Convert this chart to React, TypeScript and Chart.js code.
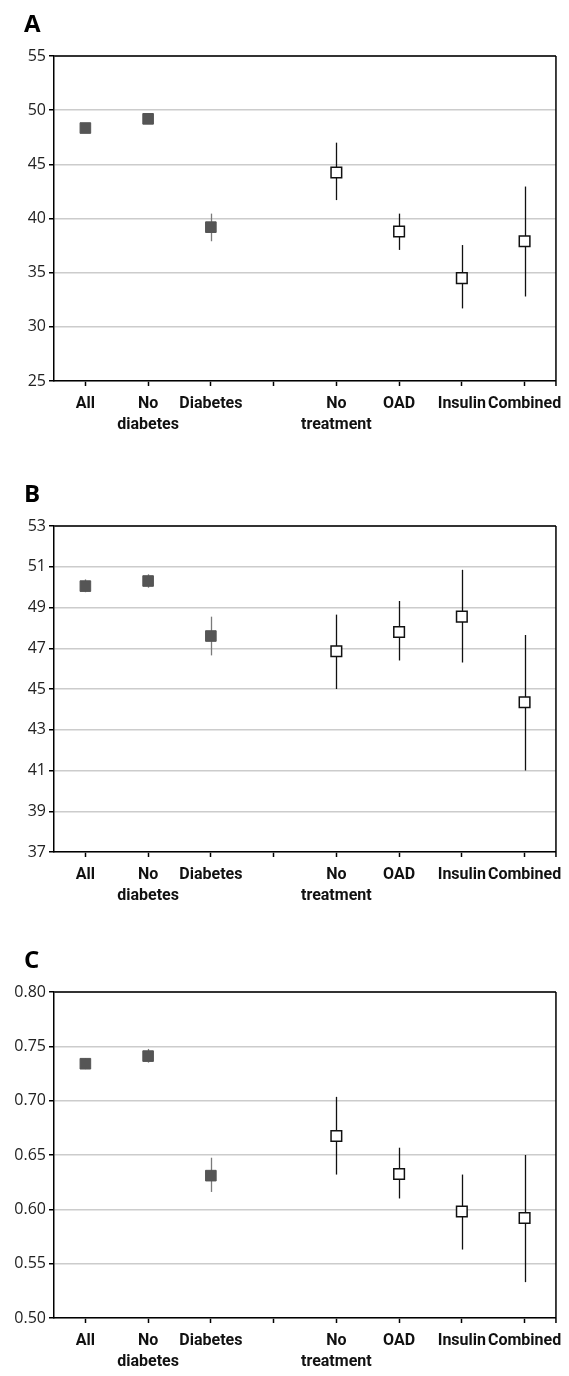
import React, { useEffect, useRef } from 'react';
import { Chart, registerables } from 'chart.js';

Chart.register(...registerables);

// ---- data ----
const categories: (string | string[])[] = [
  'All',
  ['No', 'diabetes'],
  'Diabetes',
  '',
  ['No', 'treatment'],
  'OAD',
  'Insulin',
  'Combined',
];
// filled = overall groups, open = diabetes treatment subgroups
const markerKinds: (string | null)[] = ['filled', 'filled', 'filled', null, 'open', 'open', 'open', 'open'];

const panelAMean: (number | null)[] = [48.35, 49.2, 39.2, null, 44.25, 38.8, 34.5, 37.9];
const panelALow: (number | null)[] = [48.1, 48.95, 37.9, null, 41.7, 37.1, 31.7, 32.8];
const panelAHigh: (number | null)[] = [48.6, 49.45, 40.45, null, 47.0, 40.45, 37.55, 42.95];
const panelATicks = { min: 25, max: 55, step: 5, decimals: 0 };

const panelBMean: (number | null)[] = [50.05, 50.3, 47.6, null, 46.85, 47.8, 48.55, 44.35];
const panelBLow: (number | null)[] = [49.75, 49.97, 46.65, null, 45.0, 46.4, 46.3, 41.0];
const panelBHigh: (number | null)[] = [50.38, 50.63, 48.55, null, 48.65, 49.32, 50.85, 47.65];
const panelBTicks = { min: 37, max: 53, step: 2, decimals: 0 };

const panelCMean: (number | null)[] = [0.734, 0.741, 0.631, null, 0.6675, 0.6325, 0.598, 0.592];
const panelCLow: (number | null)[] = [0.729, 0.735, 0.616, null, 0.632, 0.61, 0.563, 0.533];
const panelCHigh: (number | null)[] = [0.739, 0.7476, 0.6475, null, 0.7035, 0.6567, 0.632, 0.65];
const panelCTicks = { min: 0.5, max: 0.8, step: 0.05, decimals: 2 };

const FONT = '"Open Sans", "Noto Sans", sans-serif';
const LABEL_FONT = 'Roboto, "Open Sans", sans-serif';

type PanelProps = {
  letter: string;
  mean: (number | null)[];
  low: (number | null)[];
  high: (number | null)[];
  ticks: { min: number; max: number; step: number; decimals: number };
  top: number;
  height: number;
};

function Panel({ letter, mean, low, high, ticks, top, height }: PanelProps) {
  const ref = useRef<HTMLCanvasElement | null>(null);

  useEffect(() => {
    if (!ref.current) return;
    const filled = mean.map((v, i) => (markerKinds[i] === 'filled' ? v : null));
    const open = mean.map((v, i) => (markerKinds[i] === 'open' ? v : null));

    const errorBars = {
      id: 'errorBars',
      beforeDatasetsDraw(chart: any) {
        const { ctx, scales } = chart;
        const x = scales.x;
        const y = scales.y;
        ctx.save();
        mean.forEach((v, i) => {
          if (v == null || low[i] == null || high[i] == null) return;
          const px = Math.round(x.getPixelForValue(i)) + 0.5;
          ctx.strokeStyle = markerKinds[i] === 'filled' ? '#7a7a7a' : '#111111';
          ctx.lineWidth = 1.3;
          ctx.beginPath();
          ctx.moveTo(px, y.getPixelForValue(low[i] as number));
          ctx.lineTo(px, y.getPixelForValue(high[i] as number));
          ctx.stroke();
        });
        ctx.restore();
      },
    };

    const frame = {
      id: 'frame',
      afterDraw(chart: any) {
        const { ctx, chartArea } = chart;
        const { left, right, top: t, bottom } = chartArea;
        ctx.save();
        ctx.strokeStyle = '#333333';
        ctx.lineWidth = 2;
        ctx.beginPath();
        ctx.moveTo(left, t);
        ctx.lineTo(right, t);
        ctx.stroke();
        ctx.strokeStyle = '#000000';
        ctx.lineWidth = 1.5;
        ctx.beginPath();
        ctx.moveTo(right, t);
        ctx.lineTo(right, bottom + 5);
        ctx.stroke();
        ctx.fillStyle = '#000000';
        ctx.font = `bold 24px ${FONT}`;
        ctx.textBaseline = 'alphabetic';
        ctx.textAlign = 'left';
        ctx.fillText(letter, 24, 32);
        ctx.restore();
      },
    };

    const chart = new Chart(ref.current, {
      type: 'line',
      data: {
        labels: categories as any,
        datasets: [
          {
            data: filled,
            showLine: false,
            pointStyle: 'rect',
            pointRadius: 7.5,
            pointHoverRadius: 7.5,
            pointBackgroundColor: '#555555',
            pointBorderColor: '#555555',
            pointBorderWidth: 1,
          },
          {
            data: open,
            showLine: false,
            pointStyle: 'rect',
            pointRadius: 7.5,
            pointHoverRadius: 7.5,
            pointBackgroundColor: '#ffffff',
            pointBorderColor: '#111111',
            pointBorderWidth: 1.5,
          },
        ],
      },
      options: {
        animation: false,
        responsive: false,
        devicePixelRatio: 1,
        events: [],
        layout: { padding: { top: 56, right: 13, left: 0, bottom: 0 } },
        plugins: {
          legend: { display: false },
          tooltip: { enabled: false },
          title: { display: false },
        },
        scales: {
          x: {
            type: 'category',
            offset: true,
            grid: {
              offset: false,
              drawOnChartArea: false,
              tickLength: 5,
              tickColor: '#000000',
              tickWidth: 1.5,
            },
            border: { color: '#000000', width: 1.5 },
            ticks: {
              autoSkip: false,
              maxRotation: 0,
              minRotation: 0,
              padding: 7,
              color: '#111111',
              font: { family: LABEL_FONT, size: 16, weight: 'bold', lineHeight: 1.35 },
            },
            afterFit: (s: any) => {
              s.height = 55;
            },
          },
          y: {
            min: ticks.min,
            max: ticks.max,
            ticks: {
              stepSize: ticks.step,
              padding: 3,
              color: '#222222',
              font: { family: FONT, size: 16 },
              callback: (v: any) => Number(v).toFixed(ticks.decimals),
            },
            grid: {
              color: '#cccccc',
              lineWidth: 1.5,
              tickLength: 5,
              tickColor: '#000000',
              tickWidth: 1.5,
            },
            border: { color: '#000000', width: 1.5 },
            afterFit: (s: any) => {
              s.width = 54;
            },
          },
        },
      } as any,
      plugins: [errorBars, frame],
    });
    return () => chart.destroy();
  }, []);

  return (
    <canvas
      ref={ref}
      width={569}
      height={height}
      style={{ position: 'absolute', left: 0, top, display: 'block' }}
    />
  );
}

export default function App() {
  return (
    <div
      style={{
        position: 'relative',
        width: 569,
        height: 1376,
        marginLeft: -8,
        marginTop: -8,
        marginBottom: -8,
        background: '#fff',
      }}
    >
      <Panel letter="A" mean={panelAMean} low={panelALow} high={panelAHigh} ticks={panelATicks} top={0} height={436} />
      <Panel letter="B" mean={panelBMean} low={panelBLow} high={panelBHigh} ticks={panelBTicks} top={470} height={437} />
      <Panel letter="C" mean={panelCMean} low={panelCLow} high={panelCHigh} ticks={panelCTicks} top={936} height={437} />
    </div>
  );
}
